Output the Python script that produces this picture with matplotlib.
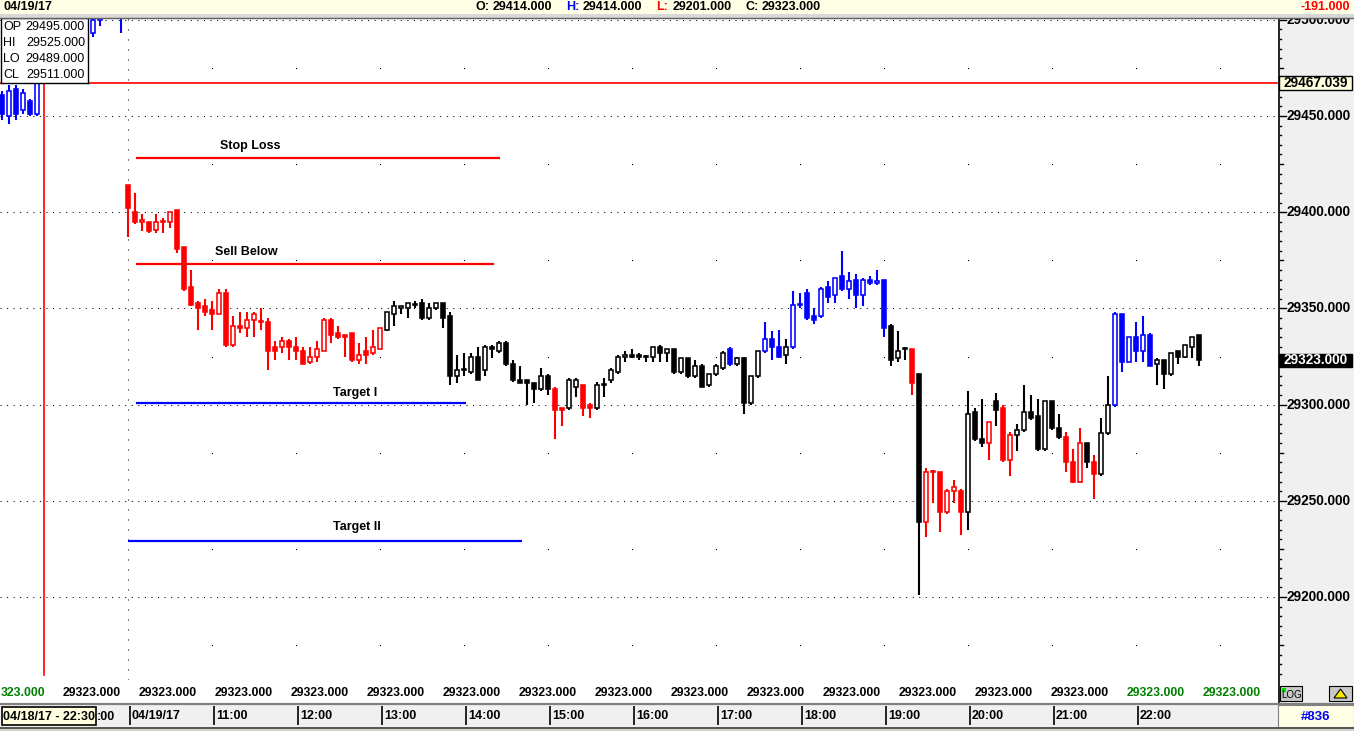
import numpy as np
import matplotlib
matplotlib.use("Agg")
import matplotlib.pyplot as plt
from matplotlib.patches import Rectangle, Polygon
from matplotlib.lines import Line2D

plt.rcParams['font.family'] = ['Liberation Sans', 'DejaVu Sans']

W, H = 1354, 731

# previous session bars (mostly off the top of the chart)
prev_idx = [-18, -17, -16, -15, -14, -13, -5, -4, -1]
prev_open = [29461, 29450, 29464, 29453, 29458, 29451, 29493, 29500, 29512]
prev_high = [29463, 29466, 29466, 29464, 29459, 29468, 29503, 29505, 29515]
prev_low = [29448, 29446, 29448, 29451, 29450, 29450, 29491, 29497, 29493]
prev_close = [29451, 29463, 29451, 29462, 29451, 29467, 29500, 29501, 29506]

# 04/19/17 five minute bars
opens = [29414, 29400, 29395, 29395, 29391, 29395, 29395, 29401, 29382, 29361,
         29353, 29351, 29349, 29347, 29358, 29331, 29341, 29340, 29344, 29343,
         29343, 29330, 29330, 29333, 29330, 29328, 29322, 29325, 29328, 29344,
         29337, 29336, 29337, 29323, 29328, 29327, 29329, 29339, 29347, 29350,
         29350, 29352, 29353, 29345, 29350, 29353, 29346, 29315, 29318, 29317,
         29325, 29318, 29330, 29328, 29332, 29321, 29313, 29313, 29311, 29308,
         29315, 29308, 29298, 29298, 29309, 29310, 29300, 29298, 29310, 29313,
         29317, 29325, 29326, 29326, 29325, 29325, 29330, 29327, 29329, 29317,
         29324, 29315, 29320, 29310, 29316, 29319, 29329, 29321, 29324, 29301,
         29315, 29328, 29334, 29330, 29326, 29330, 29352, 29358, 29346, 29346,
         29361, 29357, 29367, 29360, 29365, 29357, 29365, 29363, 29365, 29341,
         29324, 29329, 29329, 29316, 29239, 29265, 29265, 29244, 29255, 29255,
         29244, 29296, 29282, 29280, 29302, 29298, 29271, 29284, 29287, 29296,
         29294, 29277, 29302, 29288, 29283, 29270, 29260, 29280, 29270, 29264,
         29285, 29300, 29347, 29322, 29335, 29328, 29336, 29321, 29323, 29316,
         29328, 29325, 29330, 29336]
highs = [29414, 29410, 29399, 29395, 29399, 29397, 29400, 29401, 29382, 29370,
         29354, 29355, 29354, 29360, 29360, 29346, 29348, 29348, 29348, 29350,
         29345, 29333, 29335, 29334, 29335, 29330, 29330, 29333, 29345, 29345,
         29341, 29336, 29337, 29332, 29335, 29339, 29340, 29348, 29354, 29351,
         29353, 29354, 29355, 29353, 29353, 29353, 29348, 29326, 29327, 29327,
         29330, 29331, 29331, 29333, 29333, 29323, 29320, 29313, 29311, 29319,
         29316, 29309, 29298, 29314, 29314, 29310, 29301, 29312, 29314, 29319,
         29326, 29328, 29329, 29327, 29326, 29330, 29331, 29329, 29329, 29324,
         29324, 29323, 29321, 29316, 29321, 29328, 29330, 29325, 29325, 29315,
         29328, 29343, 29338, 29339, 29334, 29359, 29358, 29360, 29350, 29361,
         29364, 29366, 29380, 29369, 29368, 29366, 29367, 29370, 29365, 29342,
         29338, 29330, 29329, 29316, 29267, 29266, 29265, 29256, 29261, 29256,
         29307, 29298, 29303, 29291, 29306, 29300, 29286, 29290, 29310, 29305,
         29303, 29302, 29302, 29295, 29286, 29277, 29288, 29280, 29274, 29293,
         29315, 29348, 29347, 29335, 29343, 29346, 29337, 29324, 29323, 29327,
         29328, 29331, 29335, 29336]
lows = [29387, 29394, 29390, 29389, 29389, 29389, 29392, 29379, 29359, 29351,
        29339, 29346, 29339, 29347, 29330, 29330, 29337, 29335, 29335, 29339,
        29318, 29323, 29327, 29323, 29323, 29321, 29321, 29322, 29328, 29332,
        29334, 29325, 29322, 29321, 29321, 29326, 29329, 29338, 29341, 29347,
        29345, 29350, 29344, 29344, 29349, 29340, 29310, 29311, 29315, 29316,
        29313, 29315, 29324, 29327, 29320, 29312, 29311, 29300, 29301, 29307,
        29305, 29282, 29289, 29297, 29304, 29294, 29293, 29297, 29304, 29311,
        29316, 29322, 29324, 29323, 29322, 29322, 29322, 29322, 29316, 29316,
        29314, 29314, 29309, 29309, 29315, 29318, 29320, 29320, 29295, 29300,
        29314, 29327, 29323, 29324, 29321, 29329, 29350, 29344, 29342, 29345,
        29353, 29353, 29359, 29355, 29350, 29351, 29362, 29362, 29335, 29320,
        29322, 29323, 29305, 29201, 29231, 29249, 29234, 29243, 29249, 29232,
        29235, 29281, 29278, 29271, 29289, 29270, 29263, 29276, 29286, 29292,
        29276, 29276, 29287, 29282, 29265, 29259, 29259, 29267, 29251, 29263,
        29284, 29299, 29317, 29322, 29322, 29322, 29320, 29310, 29308, 29315,
        29321, 29324, 29324, 29320]
closes = [29402, 29395, 29396, 29390, 29395, 29395, 29400, 29381, 29360, 29352,
          29350, 29348, 29347, 29358, 29331, 29341, 29340, 29344, 29347, 29343,
          29328, 29328, 29333, 29330, 29328, 29321, 29325, 29329, 29344, 29336,
          29335, 29335, 29323, 29326, 29326, 29330, 29340, 29348, 29351, 29351,
          29353, 29352, 29345, 29350, 29353, 29345, 29315, 29318, 29318, 29325,
          29313, 29330, 29329, 29332, 29321, 29313, 29311, 29311, 29308, 29315,
          29308, 29297, 29297, 29313, 29313, 29298, 29298, 29310, 29310, 29318,
          29325, 29326, 29325, 29325, 29325, 29330, 29327, 29329, 29317, 29324,
          29315, 29320, 29309, 29316, 29320, 29327, 29321, 29324, 29301, 29315,
          29328, 29334, 29330, 29325, 29330, 29352, 29352, 29345, 29344, 29360,
          29356, 29366, 29360, 29364, 29357, 29365, 29363, 29364, 29340, 29323,
          29328, 29329, 29311, 29239, 29265, 29265, 29244, 29255, 29257, 29244,
          29295, 29282, 29280, 29291, 29297, 29271, 29284, 29287, 29296, 29293,
          29277, 29302, 29288, 29283, 29270, 29260, 29280, 29270, 29264, 29285,
          29300, 29347, 29322, 29335, 29328, 29336, 29320, 29323, 29316, 29327,
          29325, 29331, 29335, 29323]
# trend colouring of each bar: r = red, k = black, b = blue
trend = ("rrrrrrrrrrrrrrrrrrrrrrrrrrrrrrrrrrrrr"
         "kkkkkkkkkkkkkkkkkkkkkkkk" "rr" "kk" "rr"
         "kkkkkkkkkkkkkkkkkkk" "b" "kkkk" "bbb" "k"
         "bbbbbbbbbbbbbb" "kkk" "r" "k" "rrrrrr" "kkk" "r" "k" "rr"
         "kkkkkkk" "rrr" "k" "r" "kk" "bbbbbb" "kkkkkkk")

# trade levels drawn on the chart
level_names = ["Stop Loss", "Sell Below", "Target I", "Target II"]
level_prices = [29428, 29373, 29301, 29229]
level_from = [1.1, 1.1, 1.1, 0.0]
level_to = [53.1, 52.3, 48.3, 56.3]
level_colors = ["#FF0000", "#FF0000", "#0000FF", "#0000FF"]
label_x = [17.4, 16.9, 32.4, 32.7]
label_y = [29434.4, 29379.5, 29306.0, 29236.4]

cursor_price = 29467.039
last_price = 29323.0
cursor_bar = -12

hdr_keys = ["O:", "H:", "L:", "C:"]
hdr_vals = [29414.0, 29414.0, 29201.0, 29323.0]
hdr_key_colors = ["black", "#0000FF", "#FF0000", "black"]
net_change = -191.0

info_keys = ["OP", "HI", "LO", "CL"]
info_vals = [29495.0, 29525.0, 29489.0, 29511.0]

# readings along the bottom edge (the first one runs off the left edge)
row_texts = ["323.000"] + ["29323.000"] * 16
row_colors = ["#008000"] + ["black"] * 14 + ["#008000", "#008000"]

hour_labels = ["04/19/17", "11:00", "12:00", "13:00", "14:00", "15:00", "16:00",
               "17:00", "18:00", "19:00", "20:00", "21:00", "22:00"]
bar_count_label = "#836"
session_label = "04/18/17 - 22:30"

cmap = {"r": "#FF0000", "k": "#000000", "b": "#0000FF"}
YLO, YHI = 29156.86, 29500.94
XLO, XHI = -128 / 7, (1278 - 128) / 7


def frame(x0, y0, x1, y1):
    return [x0 / W, 1 - y1 / H, (x1 - x0) / W, (y1 - y0) / H]


def box(x0, y0, x1, y1, **kw):
    r = Rectangle((x0 / W, 1 - y1 / H), (x1 - x0) / W, (y1 - y0) / H,
                  transform=fig.transFigure, **kw)
    fig.add_artist(r)
    return r


def fline(xs, ys, **kw):
    fig.add_artist(Line2D([v / W for v in xs], [1 - v / H for v in ys],
                          transform=fig.transFigure, **kw))


def candles(ax, idx, o, h, l, c, cols):
    o = np.array(o, float)
    c = np.array(c, float)
    ax.vlines(idx, l, h, colors=cols, lw=1.5, zorder=4)
    bottom = np.minimum(o, c)
    height = np.maximum(np.abs(c - o), 0.5)
    face = ["white" if up else col for up, col in zip(c > o, cols)]
    ax.bar(idx, height, bottom=bottom, width=0.66, color=face,
           edgecolor=cols, linewidth=1.15, zorder=5)


fig = plt.figure(figsize=(W / 100, H / 100), dpi=100)
fig.patch.set_facecolor("white")

# right price panel background
box(1278, 18, 1354, 704, facecolor="#F0F0F0", edgecolor="none", zorder=-1)

ax = fig.add_axes(frame(0, 18, 1278, 680))
ax.set_xlim(XLO, XHI)
ax.set_ylim(YLO, YHI)
ax.axis("off")

# dotted grid
for lvl in range(29200, 29501, 50):
    ax.axhline(lvl, color="black", lw=0.75, ls=(0, (1, 5.3)), zorder=1)
ax.axvline(0, color="black", lw=0.75, ls=(0, (1, 8.6)), zorder=1)
gx, gy = [], []
for hx in range(12, 165, 12):
    for lvl in range(29175, 29500, 50):
        gx.append(hx)
        gy.append(lvl)
ax.plot(gx, gy, ls="none", marker="s", ms=0.8, mfc="black", mec="none", zorder=1)

ax.axhline(cursor_price, color="#FF0000", lw=1.2, zorder=2)
ax.axvline(cursor_bar, ymin=0.008, color="#FF0000", lw=1.2, zorder=2)

for name, p, a, b, col, tx, ty in zip(level_names, level_prices, level_from,
                                      level_to, level_colors, label_x, label_y):
    ax.plot([a, b], [p, p], color=col, lw=1.6, solid_capstyle="butt", zorder=3)
    ax.text(tx, ty, name, ha="center", va="center", fontsize=9,
            fontweight="bold", color="black", zorder=3)

candles(ax, prev_idx, prev_open, prev_high, prev_low, prev_close,
        [cmap["b"]] * len(prev_idx))
candles(ax, np.arange(len(opens)), opens, highs, lows, closes,
        [cmap[t] for t in trend])

# right price scale
rax = fig.add_axes(frame(1278, 18, 1354, 680))
rax.set_xlim(0, 76)
rax.set_ylim(YLO, YHI)
rax.axis("off")
rax.patch.set_visible(False)
for lvl in range(29160, 29501, 5):
    if lvl % 50 == 0:
        rax.plot([1.5, 7.5], [lvl, lvl], color="black", lw=1)
        rax.text(8.5, lvl, f"{lvl:.3f}", ha="left", va="center",
                 fontsize=9.8, fontweight="bold", clip_on=True)
    elif lvl % 25 == 0:
        rax.plot([1.5, 5], [lvl, lvl], color="black", lw=1)
    else:
        rax.plot([1.5, 2.6], [lvl, lvl], color="black", lw=1)
rax.add_patch(Rectangle((1, cursor_price - 3.5), 73, 7, facecolor="#FFFFE0",
                        edgecolor="black", lw=1, zorder=5))
rax.text(37.5, cursor_price, f"{cursor_price:.3f}", ha="center", va="center",
         fontsize=9.8, fontweight="bold", zorder=6)
rax.add_patch(Rectangle((1, last_price - 3.4), 73, 6.8, facecolor="black",
                        edgecolor="black", lw=1, zorder=5))
rax.text(37.5, last_price, f"{last_price:.3f}", ha="center", va="center",
         fontsize=9.8, fontweight="bold", color="white", zorder=6)
fline([1278.5, 1278.5], [18, 704], color="black", lw=1.2, zorder=3)

# LOG button and scale icon
box(1280, 686, 1302, 701, facecolor="#C8C8C8", edgecolor="black", lw=0.8, zorder=3)
box(1282, 688, 1286, 692, facecolor="#00E000", edgecolor="none", zorder=4)
fig.text(1292 / W, 1 - 694.5 / H, "LOG", ha="center", va="center", fontsize=7,
         zorder=4)
box(1329, 686, 1352, 701, facecolor="#C8C8C8", edgecolor="black", lw=0.8, zorder=3)
fig.add_artist(Polygon([[1334 / W, 1 - 698 / H], [1340.5 / W, 1 - 689 / H],
                        [1347 / W, 1 - 698 / H]], closed=True,
                       transform=fig.transFigure, facecolor="#FFE800",
                       edgecolor="black", lw=0.8, zorder=4))

# bottom row of last-price readings
fig.text(1 / W, 1 - 693 / H, row_texts[0], ha="left", va="center",
         fontsize=8.8, fontweight="bold", color=row_colors[0], zorder=2)
for k in range(1, len(row_texts)):
    fig.text((16 + 76 * k) / W, 1 - 693 / H, row_texts[k], ha="center",
             va="center", fontsize=8.8, fontweight="bold", color=row_colors[k],
             zorder=2)

# time axis bar
fline([0, W], [703.5, 703.5], color="#808080", lw=1.6, zorder=3)
tax = fig.add_axes(frame(0, 705, 1278, 727))
tax.set_xlim(XLO, XHI)
tax.set_ylim(0, 1)
tax.set_facecolor("#F0F0F0")
tax.set_xticks([])
tax.set_yticks([])
for s in tax.spines.values():
    s.set_visible(False)
for k, lab in enumerate(hour_labels):
    tx = 12 * k + 0.25
    tax.vlines(tx, 0.1, 0.95, color="black", lw=1.2)
    tax.text(tx + 0.3, 0.5, lab, ha="left", va="center", fontsize=9,
             fontweight="bold")
box(2, 707, 96, 725, facecolor="#FFFFE0", edgecolor="black", lw=1.2, zorder=2)
fig.text(49 / W, 1 - 716.5 / H, session_label, ha="center", va="center",
         fontsize=9, fontweight="bold", zorder=3)
fig.text(97 / W, 1 - 716.5 / H, ":00", ha="left", va="center", fontsize=9,
         fontweight="bold", zorder=3)
box(1278, 705, 1354, 727, facecolor="#FFFFE6", edgecolor="#808080", lw=0.8, zorder=2)
fig.text(1316 / W, 1 - 716.5 / H, bar_count_label, ha="center", va="center",
         fontsize=9.5, fontweight="bold", color="#0000FF", zorder=3)
box(0, 727, W, H, facecolor="#D4D0C8", edgecolor="none", zorder=2)
fline([0, W], [727.5, 727.5], color="#404040", lw=1.2, zorder=3)

# OHLC info box
ibox = fig.add_axes(frame(1, 18, 88, 83), zorder=3)
ibox.set_xlim(0, 87)
ibox.set_ylim(65, 0)
ibox.set_xticks([])
ibox.set_yticks([])
for s in ibox.spines.values():
    s.set_color("black")
    s.set_linewidth(1)
for k, (key, v) in enumerate(zip(info_keys, info_vals)):
    ibox.text(2, 9 + 16 * k, key, ha="left", va="center", fontsize=9)
    ibox.text(84, 9 + 16 * k, f"{v:.3f}", ha="right", va="center", fontsize=9)

# header strip
hax = fig.add_axes(frame(0, 0, W, 14), zorder=5)
hax.set_xlim(0, W)
hax.set_ylim(14, 0)
hax.set_facecolor("#FFFFE6")
hax.set_xticks([])
hax.set_yticks([])
for s in hax.spines.values():
    s.set_visible(False)
hax.text(3, 7, "04/19/17", ha="left", va="center", fontsize=9, fontweight="bold")
key_x = [476, 566, 656, 745]
for kx, key, v, col in zip(key_x, hdr_keys, hdr_vals, hdr_key_colors):
    hax.text(kx, 7, key, ha="left", va="center", fontsize=9, color=col,
             fontweight="bold")
    hax.text(kx + 17, 7, f"{v:.3f}", ha="left", va="center", fontsize=9,
             fontweight="bold")
hax.text(1350, 7, f"{net_change:.3f}", ha="right", va="center", fontsize=9,
         color="#FF0000", fontweight="bold")
box(0, 14, W, 18, facecolor="#D8D8D8", edgecolor="none", zorder=6)
fline([0, W], [17.5, 17.5], color="#606060", lw=1, zorder=7)

fig.savefig("out.png", dpi=100)
